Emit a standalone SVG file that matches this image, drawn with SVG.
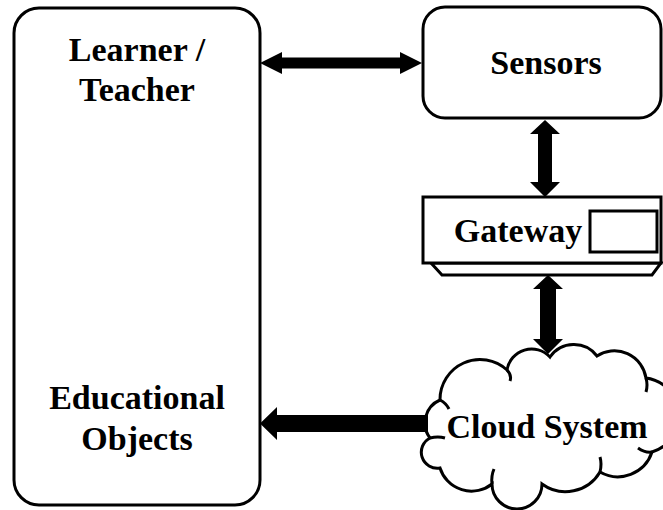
<svg xmlns="http://www.w3.org/2000/svg" width="663" height="510" viewBox="0 0 663 510">
<style>
.box{fill:#fff;stroke:#000;stroke-width:3}
.lbl{font-family:"Liberation Serif","Times New Roman",serif;font-weight:bold;font-size:34px;fill:#000;text-anchor:middle}
.arr{fill:#000;stroke:none}
.curl{fill:none;stroke:#000;stroke-width:3}
</style>
<rect width="663" height="510" fill="#fff"/>
<g id="learner-box">
<rect class="box" x="14" y="8" width="246" height="497" rx="25"/>
<text class="lbl" x="137" y="61">Learner /</text>
<text class="lbl" x="137" y="101">Teacher</text>
<text class="lbl" x="137" y="409">Educational</text>
<text class="lbl" x="137" y="450">Objects</text>
</g>
<g id="sensors">
<rect class="box" x="423" y="7" width="238" height="111" rx="22"/>
<text class="lbl" x="546" y="74">Sensors</text>
</g>
<g id="gateway">
<polygon class="box" points="431,263 661,263 652,275 442,275"/>
<rect class="box" x="423" y="197" width="238" height="66"/>
<text class="lbl" x="518" y="242">Gateway</text>
<rect class="box" x="590" y="211" width="67" height="41"/>
</g>
<g id="cloud">
<path class="box" d="M430,438 A25,25 0 0 1 440,400 A40,40 0 0 1 507,370 A25,25 0 0 1 550,357 A29,29 0 0 1 597,356 A32,32 0 0 1 646,378 A38,38 0 0 1 652,452 A36,36 0 0 1 600,472 A40,40 0 0 1 542,484 A25,25 0 0 1 492,484 A33,33 0 0 1 440,468 A16,16 0 0 1 430,438 Z"/>
<path class="curl" d="M507,370 Q512,375 510,381"/>
<path class="curl" d="M440,400 Q446,403 449,409"/>
<path class="curl" d="M430,438 Q438,436 445,438"/>
<path class="curl" d="M492,484 Q491,476 494,469"/>
<path class="curl" d="M600,472 Q602,464 600,457"/>
<path class="curl" d="M652,452 Q645,453 638,448"/>
<path class="curl" d="M646,378 Q648,385 646,392"/>
<text class="lbl" x="547" y="438">Cloud System</text>
</g>
<g id="connectors">
<polygon class="arr" points="260,63 282,52 282,57.5 400,57.5 400,52 422,63 400,74 400,68.5 282,68.5 282,74"/>
<polygon class="arr" points="545,120 560,134 552,134 552,182 560,182 545,197 530,182 538,182 538,134 530,134"/>
<polygon class="arr" points="548,275 563,289 556,289 556,339 563,339 548,354 533,339 540,339 540,289 533,289"/>
<polygon class="arr" points="260,423.5 277,407 277,415 428,415 428,432 277,432 277,440"/>
</g>
</svg>
